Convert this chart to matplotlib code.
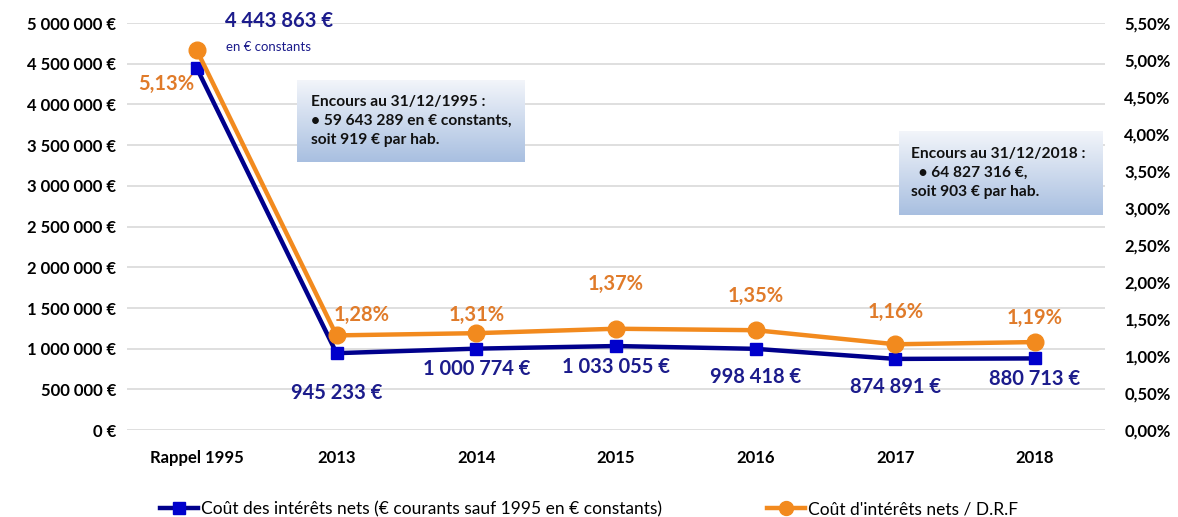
import numpy as np
import matplotlib.pyplot as plt
from matplotlib.ticker import FuncFormatter, MultipleLocator
from matplotlib.lines import Line2D

plt.rcParams['font.family'] = ['Lato', 'DejaVu Sans']

# Données
categories = ['Rappel 1995', '2013', '2014', '2015', '2016', '2017', '2018']
cout_interets = [4443863, 945233, 1000774, 1033055, 998418, 874891, 880713]
ratio_drf = [5.13, 1.28, 1.31, 1.37, 1.35, 1.16, 1.19]

bleu = '#00008C'
bleu_marq = '#0000CC'
orange = '#F28A1E'
orange_txt = '#E07B2A'
navy_txt = '#1C1C8C'


def euro(v):
    return '{:,.0f} €'.format(v).replace(',', ' ')


def pct(v):
    return '{:.2f}%'.format(v).replace('.', ',')


fig = plt.figure(figsize=(11.78, 5.17), dpi=100)
ax = fig.add_axes([0.1078, 0.168, 0.8302, 0.7875])
ax2 = ax.twinx()

x = np.arange(len(categories))

ax.plot(x, cout_interets, color=bleu, lw=3.2, marker='s', ms=9,
        mfc=bleu_marq, mec=bleu_marq, zorder=3)
ax2.plot(x, ratio_drf, color=orange, lw=3.2, marker='o', ms=12,
         mfc=orange, mec=orange, zorder=4)

ax.set_xlim(-0.5, len(categories) - 0.5)
ax.set_ylim(0, 5000000)
ax2.set_ylim(0, 5.5)
ax.yaxis.set_major_locator(MultipleLocator(500000))
ax2.yaxis.set_major_locator(MultipleLocator(0.5))
ax.yaxis.set_major_formatter(FuncFormatter(lambda v, p: euro(v)))
ax2.yaxis.set_major_formatter(FuncFormatter(lambda v, p: pct(v)))

ax.set_xticks(x)
ax.set_xticklabels(categories)
for a in (ax, ax2):
    for s in a.spines.values():
        s.set_visible(False)
    a.tick_params(length=0, labelsize=12)
    for lab in a.get_yticklabels() + a.get_xticklabels():
        lab.set_fontweight('bold')
ax.tick_params(axis='x', pad=14)
ax.tick_params(axis='y', pad=8)
ax2.tick_params(axis='y', pad=14)
ax.grid(axis='y', color='#d9d9d9', lw=1.2)
ax.set_axisbelow(True)

# Étiquettes des valeurs (décalages en points)
off_bleu = [(0, 0), (0, -29), (0, -15), (0, -15), (0, -20), (0, -20), (0, -15)]
off_orange = [(-22, -24), (18, 15), (0, 13), (0, 32), (0, 25), (0, 23), (0, 17)]

for i, v in enumerate(cout_interets):
    if i == 0:
        ax.annotate(euro(v), (x[i], v), xytext=(20, 34), textcoords='offset points',
                    ha='left', va='center', fontsize=14.5, fontweight='bold', color=navy_txt)
        ax.annotate('en € constants', (x[i], v), xytext=(21, 15), textcoords='offset points',
                    ha='left', va='center', fontsize=9.5, color=navy_txt)
    else:
        ax.annotate(euro(v), (x[i], v), xytext=off_bleu[i], textcoords='offset points',
                    ha='center', va='center', fontsize=14.5, fontweight='bold', color=navy_txt)

for i, v in enumerate(ratio_drf):
    ax2.annotate(pct(v), (x[i], v), xytext=off_orange[i], textcoords='offset points',
                 ha='center', va='center', fontsize=14.5, fontweight='bold', color=orange_txt)


# Encadrés avec dégradé
def encadre(rect, texte):
    bx = fig.add_axes(rect)
    grad = np.linspace(0, 1, 100).reshape(-1, 1)
    top = np.array([0.95, 0.96, 0.98])
    bot = np.array([0.66, 0.75, 0.88])
    img = top + (bot - top) * grad[:, :, None]
    bx.imshow(img, aspect='auto', extent=[0, 1, 0, 1], origin='upper')
    bx.set_axis_off()
    bx.text(0.06, 0.5, texte, ha='left', va='center', fontsize=11.2,
            fontweight='bold', color='#111111', linespacing=1.45)


encadre([297 / 1178, 1 - 162 / 517, 228 / 1178, 82 / 517],
        'Encours au 31/12/1995 :\n• 59 643 289 en € constants,\nsoit 919 € par hab.')
encadre([899 / 1178, 1 - 215 / 517, 204 / 1178, 84 / 517],
        'Encours au 31/12/2018 :\n  • 64 827 316 €,\nsoit 903 € par hab.')

handles = [
    Line2D([], [], color=bleu, lw=3.2, marker='s', ms=8, mfc=bleu_marq, mec=bleu_marq),
    Line2D([], [], color=orange, lw=3.2, marker='o', ms=10, mfc=orange, mec=orange),
]
fig.legend(handles, ['Coût des intérêts nets (€ courants sauf 1995 en € constants)',
                     "Coût d'intérêts nets / D.R.F"],
           loc='center', bbox_to_anchor=(0.5, 1 - 509 / 517), ncol=2, frameon=False,
           fontsize=12.5, columnspacing=6, handlelength=2.2, handletextpad=0.2)

fig.savefig('out.png', dpi=100)
